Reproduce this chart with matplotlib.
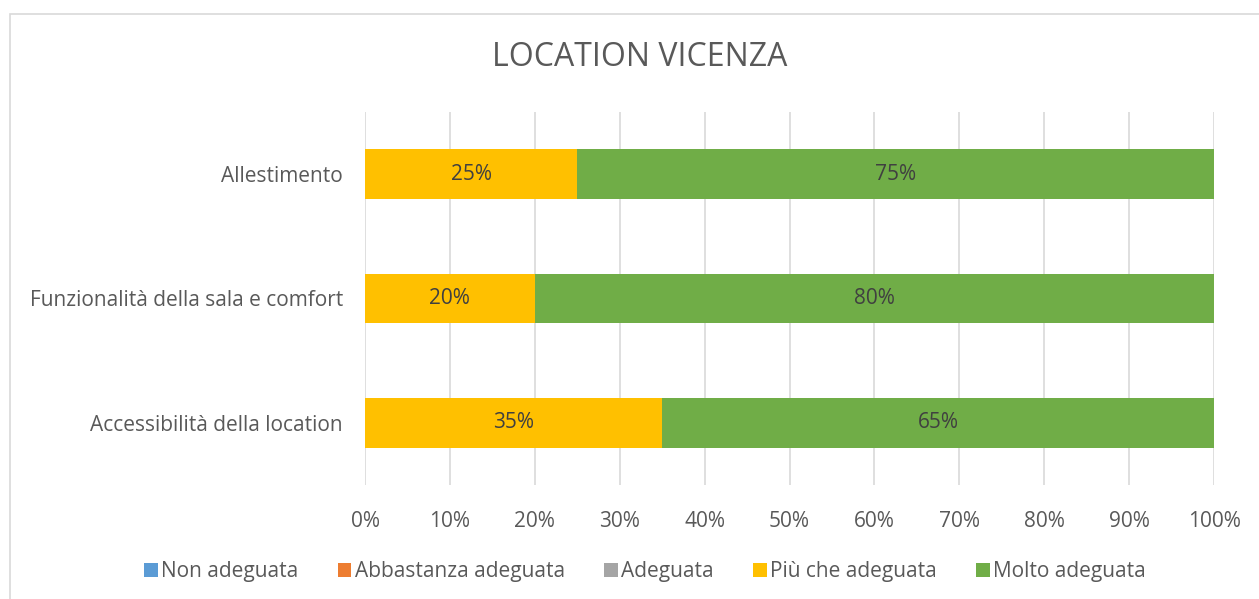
import matplotlib.pyplot as plt
from matplotlib.patches import Rectangle
import numpy as np

plt.rcParams['font.family'] = ['Open Sans', 'DejaVu Sans']

categories = ['Accessibilità della location', 'Funzionalità della sala e comfort', 'Allestimento']
series_names = ['Non adeguata', 'Abbastanza adeguata', 'Adeguata', 'Più che adeguata', 'Molto adeguata']
series_values = [
    [0, 0, 0],
    [0, 0, 0],
    [0, 0, 0],
    [35, 20, 25],
    [65, 80, 75],
]
colors = ['#5b9bd5', '#ed7d31', '#a5a5a5', '#ffc000', '#70ad47']
ticks = [0, 10, 20, 30, 40, 50, 60, 70, 80, 90, 100]

text_col = '#595959'
fig = plt.figure(figsize=(12.59, 5.99), dpi=100)
ax = fig.add_axes([365/1259, 1 - 485/599, (1214-365)/1259, (485-112)/599])

# chart frame (cut off right and bottom)
fig.patches.append(Rectangle((10/1259, -0.1), 1.2, 1.1 - 14/599, transform=fig.transFigure,
                             fill=False, edgecolor='#d9d9d9', linewidth=1.2))

y = np.arange(len(categories))
left = np.zeros(len(categories))
for name, vals, c in zip(series_names, series_values, colors):
    vals = np.array(vals, dtype=float)
    ax.barh(y, vals, left=left, height=0.4, color=c, label=name, zorder=3)
    for yi, v, l in zip(y, vals, left):
        if v > 0:
            ax.text(l + v/2, yi, '{}%'.format(int(v)), ha='center', va='center',
                    color='#404040', fontsize=15, zorder=4)
    left += vals

ax.set_xlim(0, 100)
ax.set_ylim(-0.5, 2.5)
ax.set_xticks(ticks)
ax.set_xticklabels(['{}%'.format(t) for t in ticks], color=text_col, fontsize=15)
ax.set_yticks(y)
ax.set_yticklabels(categories, color=text_col, fontsize=15)
ax.tick_params(axis='both', length=0)
ax.tick_params(axis='x', pad=19)
ax.tick_params(axis='y', pad=16)
ax.grid(axis='x', color='#d9d9d9', linewidth=1.2, zorder=0)
for s in ax.spines.values():
    s.set_visible(False)

fig.text(640/1259, 1 - 57/599, 'LOCATION VICENZA', ha='center', va='center',
         color=text_col, fontsize=23)

fig.legend(loc='center', bbox_to_anchor=(645/1259, 1 - 572/599), ncol=5, frameon=False,
           fontsize=15, labelcolor=text_col, handlelength=0.65, handleheight=0.65,
           handletextpad=0.15, columnspacing=1.9)

plt.savefig('out.png', dpi=100)
